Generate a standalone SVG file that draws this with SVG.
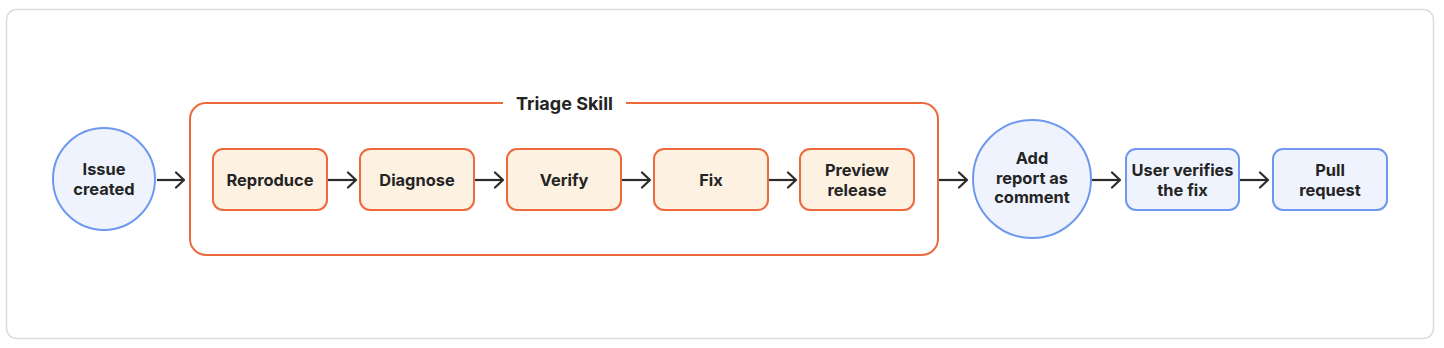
<svg xmlns="http://www.w3.org/2000/svg" width="1444" height="348" viewBox="0 0 1444 348">
<defs>
<marker id="arr" markerWidth="14" markerHeight="18" refX="11" refY="9" orient="auto" markerUnits="userSpaceOnUse">
<path d="M3,1.5 L11,9 L3,16.5" fill="none" stroke="#2b2b2b" stroke-width="2.2" stroke-linecap="round" stroke-linejoin="round"/>
</marker>
</defs>
<style>
.t{font-family:Inter,"Liberation Sans",sans-serif;font-weight:700;font-size:16.4px;fill:#242424;text-anchor:middle}
.blue{fill:#eef3fd;stroke:#6e98ef;stroke-width:2}
.orange{fill:#fdf1e2;stroke:#ee6a3e;stroke-width:2}
.edge{fill:none;stroke:#2b2b2b;stroke-width:2.2;marker-end:url(#arr)}
</style>
<rect x="0" y="0" width="1444" height="348" fill="#ffffff"/>
<rect x="6.5" y="9.5" width="1427" height="329" rx="10" fill="#ffffff" stroke="#dcdcdc" stroke-width="1.5"/>

<g id="triage">
<path d="M503,103 H206 A16,16 0 0 0 190,119 V239 A16,16 0 0 0 206,255 H922 A16,16 0 0 0 938,239 V119 A16,16 0 0 0 922,103 H626" fill="none" stroke="#ee6a3e" stroke-width="2"/>
<text x="564.5" y="109.5" class="t" style="font-size:18px">Triage Skill</text>
</g>

<g id="issue">
<circle cx="104" cy="179" r="51" class="blue"/>
<text x="104" y="175" class="t">Issue</text>
<text x="104" y="195" class="t">created</text>
</g>

<g id="reproduce">
<rect x="213" y="149" width="114" height="61" rx="10" class="orange"/>
<text x="270" y="185.5" class="t">Reproduce</text>
</g>
<g id="diagnose">
<rect x="360" y="149" width="114" height="61" rx="10" class="orange"/>
<text x="417" y="185.5" class="t">Diagnose</text>
</g>
<g id="verify">
<rect x="507" y="149" width="114" height="61" rx="10" class="orange"/>
<text x="564" y="185.5" class="t">Verify</text>
</g>
<g id="fix">
<rect x="654" y="149" width="114" height="61" rx="10" class="orange"/>
<text x="711" y="185.5" class="t">Fix</text>
</g>
<g id="preview">
<rect x="800" y="149" width="114" height="61" rx="10" class="orange"/>
<text x="857" y="175.5" class="t">Preview</text>
<text x="857" y="195.5" class="t">release</text>
</g>

<g id="report">
<circle cx="1032" cy="179" r="59" class="blue"/>
<text x="1032" y="164" class="t">Add</text>
<text x="1032" y="184" class="t">report as</text>
<text x="1032" y="203" class="t">comment</text>
</g>
<g id="userverifies">
<rect x="1126" y="149" width="113" height="61" rx="10" class="blue"/>
<text x="1182.5" y="175.5" class="t">User verifies</text>
<text x="1182.5" y="195.5" class="t">the fix</text>
</g>
<g id="pullrequest">
<rect x="1273" y="149" width="114" height="61" rx="10" class="blue"/>
<text x="1330" y="175.5" class="t">Pull</text>
<text x="1330" y="195.5" class="t">request</text>
</g>

<g id="connectors">
<path d="M157,180 H184" class="edge"/>
<path d="M328,180 H356" class="edge"/>
<path d="M475,180 H503" class="edge"/>
<path d="M622,180 H650" class="edge"/>
<path d="M769,180 H796" class="edge"/>
<path d="M939,180 H967" class="edge"/>
<path d="M1092,180 H1120" class="edge"/>
<path d="M1240,180 H1268" class="edge"/>
</g>
</svg>
